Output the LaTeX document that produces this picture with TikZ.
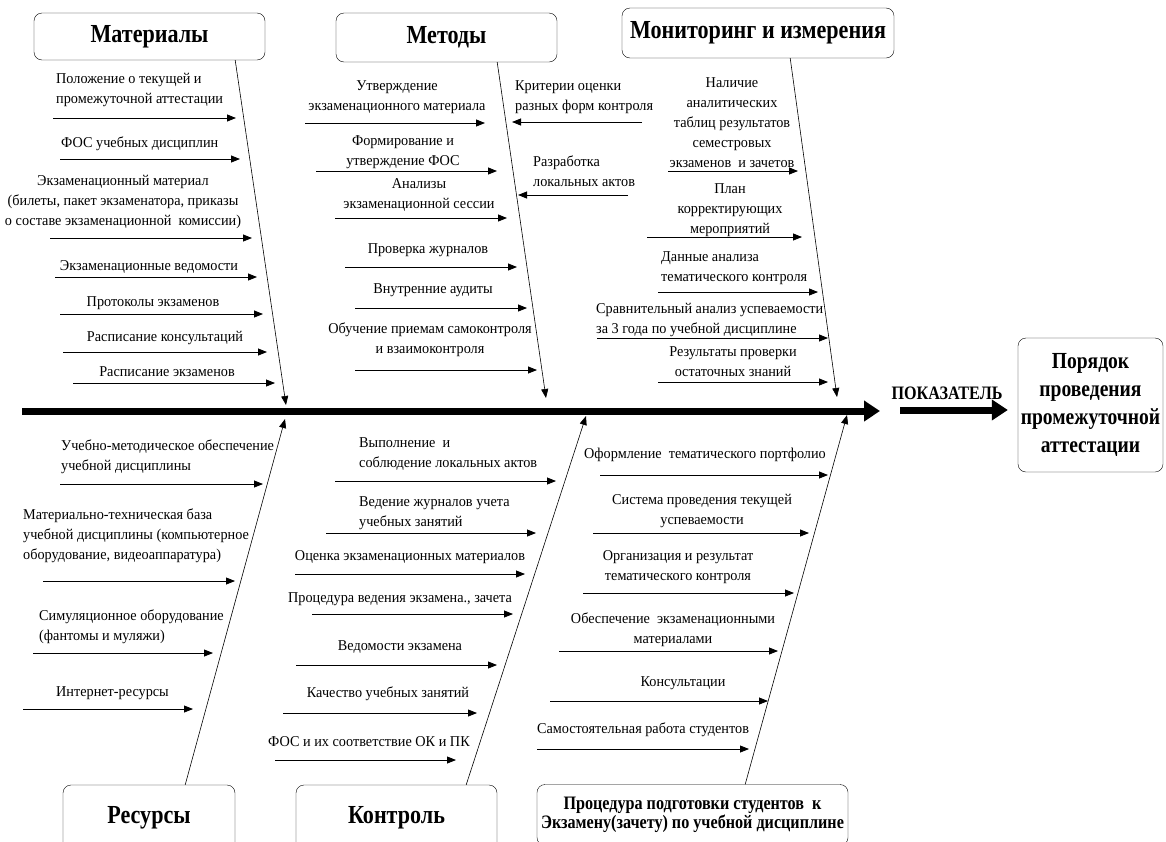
\documentclass[tikz,border=0pt]{standalone}
\usepackage{fontspec}
\setmainfont{Liberation Serif}
\newfontfamily\headfont{Liberation Serif}[FakeStretch=0.85]
\newfontfamily\lblfont{Liberation Serif}[FakeStretch=0.95]
\usetikzlibrary{arrows.meta, calc}

\begin{document}
\begin{tikzpicture}[x=1pt, y=-1pt,
  head/.style={draw, rounded corners=8pt, align=center, inner sep=0pt, font=\headfont\bfseries\fontsize{26}{30}\selectfont},
  lbl/.style={inner sep=1pt, font=\lblfont\fontsize{15}{20}\selectfont},
  ctr/.style={lbl, anchor=south, align=center},
  lft/.style={lbl, anchor=south west, align=left},
  cause/.style={-{Triangle[length=9pt, width=7pt]}, line width=0.8pt},
  bone/.style={-{Triangle[length=9pt, width=7pt]}, line width=0.6pt},
  spine/.style={-{Triangle[length=16pt, width=20pt]}, line width=7pt}
]
  \clip (0,0) rectangle (1166,841);

  % heads
  \node[head, minimum width=231pt, minimum height=47pt] (mat) at (149.5,36.5) {Материалы};
  \node[head, minimum width=221pt, minimum height=49pt] (met) at (446.5,37.5) {Методы};
  \node[head, minimum width=272pt, minimum height=50pt] (mon) at (758,33) {Мониторинг и измерения};
  \node[head, minimum width=172pt, minimum height=65pt] (rsr) at (149,817.5) {Ресурсы};
  \node[head, minimum width=201pt, minimum height=65pt] (ctl) at (396.5,817.5) {Контроль};
  \node[head, minimum width=311pt, minimum height=61pt, font=\headfont\bfseries\fontsize{19}{19}\selectfont] (prc) at (692.5,815)
    {Процедура подготовки студентов~ к\\Экзамену(зачету) по учебной дисциплине};
  \node[head, minimum width=145pt, minimum height=134pt, font=\headfont\bfseries\fontsize{23}{28}\selectfont] (goal) at (1090.5,405)
    {Порядок\\проведения\\промежуточной\\аттестации};
  \node[font=\headfont\bfseries\fontsize{19}{20}\selectfont, inner sep=0pt] (pok) at (947,393) {ПОКАЗАТЕЛЬ};

  % spine
  \coordinate (tail) at (22,411);
  \coordinate (head) at (880,411);
  \coordinate (kpi) at (900,410);
  \draw[spine] (tail) -- (head);
  \draw[spine, shorten >=10pt] (kpi) -- ([yshift=-5pt]goal.west);

  % bones
  \coordinate (matE) at (286,405);
  \coordinate (metE) at (546,398);
  \coordinate (monE) at (837,397);
  \coordinate (rsrE) at (285,419);
  \coordinate (ctlE) at (586,416);
  \coordinate (prcE) at (847,415);
  \draw[bone] ($(mat.south east)+(-30,0)$) -- (matE);
  \draw[bone] ($(met.south east)+(-60,0)$) -- (metE);
  \draw[bone] ($(mon.south east)+(-104,0)$) -- (monE);
  \draw[bone] ($(rsr.north east)+(-50,0)$) -- (rsrE);
  \draw[bone] ($(ctl.north east)+(-31,0)$) -- (ctlE);
  \draw[bone] ($(prc.north east)+(-103,0)$) -- (prcE);

  % causes: arrow y / from x / to x / label x / label y / align / text
  \foreach \ay/\xa/\xb/\lx/\ly/\al/\txt [count=\i] in {
    118/53/236/55/108/lft/{Положение о текущей и\\промежуточной аттестации},
    159/60/240/60/152/lft/{ФОС учебных дисциплин},
    238/50/252/123/230/ctr/{Экзаменационный материал\\(билеты, пакет экзаменатора, приказы\\о составе экзаменационной~ комиссии)},
    277/55/257/149/275/ctr/{Экзаменационные ведомости},
    314/60/263/153/311/ctr/{Протоколы экзаменов},
    352/63/267/165/346/ctr/{Расписание консультаций},
    383/73/275/167/378/ctr/{Расписание экзаменов}} {
    \coordinate (ma\i) at (\xa,\ay);
    \coordinate (mb\i) at (\xb,\ay);
    \draw[cause] (ma\i) -- (mb\i);
    \node[\al] (ml\i) at (\lx,\ly) {\txt};
  }

  \foreach \ay/\xa/\xb/\lx/\ly/\al/\txt [count=\i] in {
    123/305/485/397/115/ctr/{Утверждение\\экзаменационного материала},
    171/316/497/403/170/ctr/{Формирование и\\утверждение ФОС},
    218/335/507/419/213/ctr/{Анализы\\экзаменационной сессии},
    267/345/517/428/258/ctr/{Проверка журналов},
    308/355/527/433/298/ctr/{Внутренние аудиты},
    370/355/537/430/358/ctr/{Обучение приемам самоконтроля\\и взаимоконтроля},
    122/642/512/514/115/lft/{Критерии оценки\\разных форм контроля},
    195/628/518/532/188/lft/{Разработка\\локальных актов}} {
    \coordinate (ta\i) at (\xa,\ay);
    \coordinate (tb\i) at (\xb,\ay);
    \draw[cause] (ta\i) -- (tb\i);
    \node[\al] (tl\i) at (\lx,\ly) {\txt};
  }

  \foreach \ay/\xa/\xb/\lx/\ly/\al/\txt [count=\i] in {
    171/668/798/732/169/ctr/{Наличие\\аналитических\\таблиц результатов\\семестровых\\экзаменов~ и зачетов},
    237/647/802/730/238/ctr/{План\\корректирующих\\мероприятий},
    292/658/818/660/286/lft/{Данные анализа\\тематического контроля},
    338/597/828/595/338/lft/{Сравнительный анализ успеваемости\\за 3 года по учебной дисциплине},
    382/658/828/733/378/ctr/{Результаты проверки\\остаточных знаний}} {
    \coordinate (na\i) at (\xa,\ay);
    \coordinate (nb\i) at (\xb,\ay);
    \draw[cause] (na\i) -- (nb\i);
    \node[\al] (nl\i) at (\lx,\ly) {\txt};
  }

  \foreach \ay/\xa/\xb/\lx/\ly/\al/\txt [count=\i] in {
    484/60/263/60/475/lft/{Учебно-методическое обеспечение\\учебной дисциплины},
    581/43/235/22/564/lft/{Материально-техническая база\\учебной дисциплины (компьютерное\\оборудование, видеоаппаратура)},
    653/33/213/38/645/lft/{Симуляционное оборудование\\(фантомы и муляжи)},
    709/23/193/55/701/lft/{Интернет-ресурсы}} {
    \coordinate (ra\i) at (\xa,\ay);
    \coordinate (rb\i) at (\xb,\ay);
    \draw[cause] (ra\i) -- (rb\i);
    \node[\al] (rl\i) at (\lx,\ly) {\txt};
  }

  \foreach \ay/\xa/\xb/\lx/\ly/\al/\txt [count=\i] in {
    481/335/556/358/472/lft/{Выполнение~ и\\соблюдение локальных актов},
    533/326/536/358/531/lft/{Ведение журналов учета\\учебных занятий},
    574/295/525/410/565/ctr/{Оценка экзаменационных материалов},
    614/312/513/400/607/ctr/{Процедура ведения экзамена., зачета},
    665/296/497/400/655/ctr/{Ведомости экзамена},
    713/283/477/388/702/ctr/{Качество учебных занятий},
    760/275/456/369/748/ctr/{ФОС и их соответствие ОК и ПК}} {
    \coordinate (ca\i) at (\xa,\ay);
    \coordinate (cb\i) at (\xb,\ay);
    \draw[cause] (ca\i) -- (cb\i);
    \node[\al] (cl\i) at (\lx,\ly) {\txt};
  }

  \foreach \ay/\xa/\xb/\lx/\ly/\al/\txt [count=\i] in {
    475/600/828/705/463/ctr/{Оформление~ тематического портфолио},
    533/593/809/702/529/ctr/{Система проведения текущей\\успеваемости},
    593/583/794/678/585/ctr/{Организация и результат\\тематического контроля},
    651/559/778/673/648/ctr/{Обеспечение~ экзаменационными\\материалами},
    701/550/768/683/691/ctr/{Консультации},
    749/537/749/643/738/ctr/{Самостоятельная работа студентов}} {
    \coordinate (pa\i) at (\xa,\ay);
    \coordinate (pb\i) at (\xb,\ay);
    \draw[cause] (pa\i) -- (pb\i);
    \node[\al] (pl\i) at (\lx,\ly) {\txt};
  }
\end{tikzpicture}
\end{document}
